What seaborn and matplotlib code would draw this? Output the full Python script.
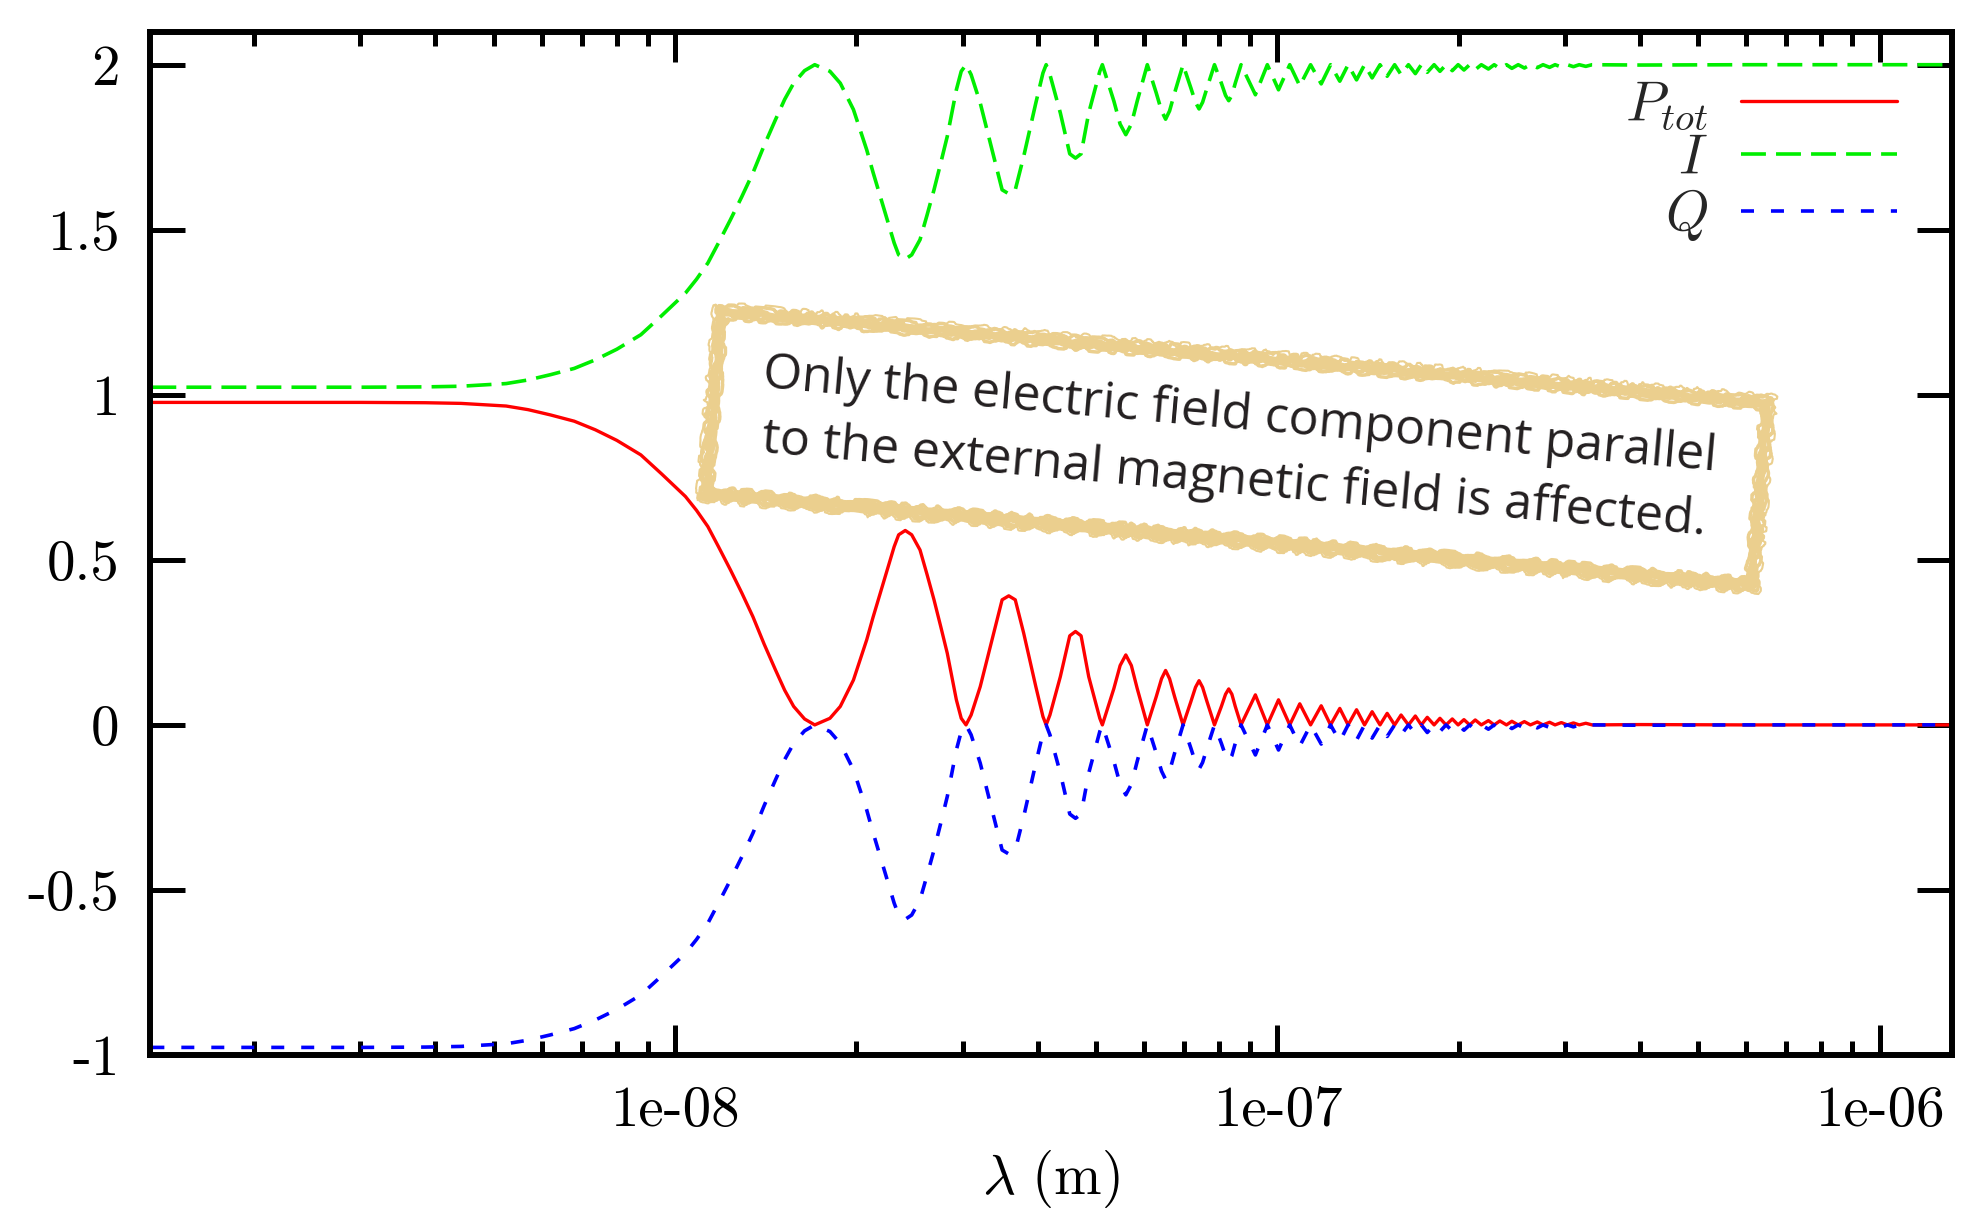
import matplotlib
matplotlib.use("Agg")
import matplotlib.pyplot as plt
import matplotlib.ticker as mticker
import seaborn as sns

# ------------------------------------------------------------------
# values (wavelength in m)
# ------------------------------------------------------------------
lam = [
    1.35e-9, 2.0e-9, 3.0e-9, 3.85e-9, 4.41e-9, 5.24e-9, 5.7e-9, 6.21e-9, 6.8e-9, 7.37e-9,
    8.0e-9, 8.77e-9, 9.5e-9,
    1.04e-8, 1.085e-8, 1.133e-8, 1.18e-8, 1.235e-8, 1.29e-8, 1.346e-8, 1.405e-8, 1.467e-8,
    1.52e-8, 1.573e-8, 1.64e-8, 1.705e-8,
    1.807e-8, 1.88e-8, 1.977e-8, 2.08e-8, 2.13e-8, 2.19e-8, 2.25e-8, 2.31e-8, 2.35e-8, 2.41e-8,
    2.47e-8, 2.55e-8, 2.62e-8, 2.69e-8, 2.76e-8, 2.83e-8, 2.88e-8, 2.93e-8, 2.985e-8, 3.04e-8,
    3.10e-8, 3.21e-8, 3.38e-8, 3.49e-8, 3.58e-8, 3.67e-8, 3.79e-8, 3.97e-8, 4.08e-8, 4.13e-8,
    4.19e-8, 4.36e-8, 4.52e-8, 4.62e-8, 4.72e-8, 4.86e-8, 5.07e-8, 5.12e-8,
    5.35e-8, 5.48e-8, 5.60e-8, 5.72e-8, 5.85e-8, 6.08e-8,
    6.29e-8, 6.42e-8, 6.52e-8, 6.62e-8, 6.75e-8, 6.97e-8,
    7.18e-8, 7.31e-8, 7.41e-8, 7.51e-8, 7.64e-8, 7.86e-8,
    8.07e-8, 8.20e-8, 8.30e-8, 8.40e-8, 8.51e-8, 8.70e-8,
    9.19e-8, 9.62e-8, 1.004e-7, 1.048e-7, 1.089e-7, 1.135e-7, 1.182e-7, 1.225e-7, 1.269e-7, 1.31e-7,
    1.353e-7, 1.395e-7, 1.436e-7, 1.48e-7, 1.521e-7, 1.565e-7, 1.604e-7, 1.65e-7, 1.694e-7, 1.733e-7,
    1.773e-7, 1.82e-7, 1.861e-7, 1.905e-7, 1.951e-7, 1.995e-7, 2.04e-7, 2.085e-7, 2.13e-7, 2.18e-7,
    2.24e-7, 2.29e-7, 2.34e-7, 2.40e-7, 2.45e-7, 2.51e-7, 2.57e-7, 2.63e-7, 2.70e-7, 2.76e-7,
    2.83e-7, 2.89e-7, 2.96e-7, 3.03e-7, 3.10e-7, 3.17e-7, 3.25e-7, 3.33e-7, 4.0e-7, 6.0e-7, 1.0e-6, 1.33e-6,
]

p_tot = [
    0.977, 0.977, 0.977, 0.976, 0.974, 0.966, 0.955, 0.939, 0.920, 0.894,
    0.862, 0.818, 0.760,
    0.692, 0.650, 0.601, 0.540, 0.470, 0.400, 0.328, 0.245, 0.167,
    0.105, 0.056, 0.018, 0.0,
    0.020, 0.056, 0.136, 0.258, 0.325, 0.399, 0.470, 0.540, 0.576, 0.589,
    0.576, 0.530, 0.455, 0.379, 0.298, 0.217, 0.145, 0.076, 0.020, 0.0,
    0.030, 0.116, 0.278, 0.379, 0.391, 0.379, 0.278, 0.116, 0.025, 0.0,
    0.030, 0.146, 0.270, 0.283, 0.270, 0.146, 0.020, 0.0,
    0.11, 0.18, 0.212, 0.18, 0.11, 0.0,
    0.085, 0.140, 0.165, 0.140, 0.085, 0.0,
    0.07, 0.114, 0.134, 0.114, 0.07, 0.0,
    0.056, 0.093, 0.109, 0.093, 0.056, 0.0,
    0.091, 0.0, 0.076, 0.0, 0.064, 0.0, 0.058, 0.0, 0.050, 0.0,
    0.046, 0.0, 0.040, 0.0, 0.035, 0.0, 0.030, 0.0, 0.027, 0.0,
    0.023, 0.0, 0.020, 0.0, 0.018, 0.0, 0.016, 0.0, 0.015, 0.0,
    0.013, 0.0, 0.012, 0.0, 0.011, 0.0, 0.010, 0.0, 0.009, 0.0,
    0.008, 0.0, 0.007, 0.0, 0.006, 0.0, 0.005, 0.0, 0.001, 0.0, 0.0, 0.0,
]

i_vals = [
    1.023, 1.023, 1.023, 1.024, 1.026, 1.034, 1.045, 1.061, 1.080, 1.106,
    1.138, 1.182, 1.240,
    1.308, 1.350, 1.399, 1.460, 1.530, 1.600, 1.672, 1.755, 1.833,
    1.895, 1.944, 1.982, 2.0,
    1.980, 1.944, 1.864, 1.742, 1.675, 1.601, 1.530, 1.460, 1.424, 1.411,
    1.424, 1.470, 1.545, 1.621, 1.702, 1.783, 1.855, 1.924, 1.980, 2.0,
    1.970, 1.884, 1.722, 1.621, 1.609, 1.621, 1.722, 1.884, 1.975, 2.0,
    1.970, 1.854, 1.730, 1.717, 1.730, 1.854, 1.980, 2.0,
    1.89, 1.82, 1.788, 1.82, 1.89, 2.0,
    1.915, 1.860, 1.835, 1.860, 1.915, 2.0,
    1.93, 1.886, 1.866, 1.886, 1.93, 2.0,
    1.944, 1.907, 1.891, 1.907, 1.944, 2.0,
    1.909, 2.0, 1.924, 2.0, 1.936, 2.0, 1.942, 2.0, 1.950, 2.0,
    1.954, 2.0, 1.960, 2.0, 1.965, 2.0, 1.970, 2.0, 1.973, 2.0,
    1.977, 2.0, 1.980, 2.0, 1.982, 2.0, 1.984, 2.0, 1.985, 2.0,
    1.987, 2.0, 1.988, 2.0, 1.989, 2.0, 1.990, 2.0, 1.991, 2.0,
    1.992, 2.0, 1.993, 2.0, 1.994, 2.0, 1.995, 2.0, 1.999, 2.0, 2.0, 2.0,
]

q_vals = [
    -0.977, -0.977, -0.977, -0.976, -0.974, -0.966, -0.955, -0.939, -0.920, -0.894,
    -0.862, -0.818, -0.760,
    -0.692, -0.650, -0.601, -0.540, -0.470, -0.400, -0.328, -0.245, -0.167,
    -0.105, -0.056, -0.018, 0.0,
    -0.020, -0.056, -0.136, -0.258, -0.325, -0.399, -0.470, -0.540, -0.576, -0.589,
    -0.576, -0.530, -0.455, -0.379, -0.298, -0.217, -0.145, -0.076, -0.020, 0.0,
    -0.030, -0.116, -0.278, -0.379, -0.391, -0.379, -0.278, -0.116, -0.025, 0.0,
    -0.030, -0.146, -0.270, -0.283, -0.270, -0.146, -0.020, 0.0,
    -0.11, -0.18, -0.212, -0.18, -0.11, 0.0,
    -0.085, -0.140, -0.165, -0.140, -0.085, 0.0,
    -0.07, -0.114, -0.134, -0.114, -0.07, 0.0,
    -0.056, -0.093, -0.109, -0.093, -0.056, 0.0,
    -0.091, 0.0, -0.076, 0.0, -0.064, 0.0, -0.058, 0.0, -0.050, 0.0,
    -0.046, 0.0, -0.040, 0.0, -0.035, 0.0, -0.030, 0.0, -0.027, 0.0,
    -0.023, 0.0, -0.020, 0.0, -0.018, 0.0, -0.016, 0.0, -0.015, 0.0,
    -0.013, 0.0, -0.012, 0.0, -0.011, 0.0, -0.010, 0.0, -0.009, 0.0,
    -0.008, 0.0, -0.007, 0.0, -0.006, 0.0, -0.005, 0.0, -0.001, 0.0, 0.0, 0.0,
]

x_ticks = [1e-8, 1e-7, 1e-6]
x_ticklabels = ["1e-08", "1e-07", "1e-06"]
y_ticks = [-1, -0.5, 0, 0.5, 1, 1.5, 2]
y_ticklabels = ["-1", "-0.5", "0", "0.5", "1", "1.5", "2"]

note_text = (" Only the electric field component parallel \n"
             " to the external magnetic field is affected. ")

# ------------------------------------------------------------------
# style
# ------------------------------------------------------------------
sns.set_theme(style="ticks")
plt.rcParams["font.family"] = ["cmr10", "DejaVu Serif"]
plt.rcParams["mathtext.fontset"] = "cm"
plt.rcParams["axes.unicode_minus"] = False
plt.rcParams["axes.formatter.use_mathtext"] = True

fig = plt.figure(figsize=(19.61, 12.27), dpi=100)
ax = fig.add_axes([150 / 1961, 1 - 1055 / 1227, 1802 / 1961, 1023.3 / 1227])
ax.set_xscale("log")

sns.lineplot(x=lam, y=p_tot, ax=ax, color="#ff0000", linewidth=2.4,
             label=r"$P_{tot}$", estimator=None, sort=False)
sns.lineplot(x=lam, y=i_vals, ax=ax, color="#00ee00", linewidth=2.6,
             linestyle=(0, (6.9, 2.8)), label=r"$I$", estimator=None, sort=False)
sns.lineplot(x=lam, y=q_vals, ax=ax, color="#0000ff", linewidth=2.6,
             linestyle=(0, (3.6, 4.7)), label=r"$Q$", estimator=None, sort=False)

ax.set_xlim(1.343e-9, 1.318e-6)
ax.set_ylim(-1, 2.1)

ax.set_xticks(x_ticks)
ax.set_xticklabels(x_ticklabels)
ax.xaxis.set_minor_locator(mticker.LogLocator(base=10, subs=range(2, 10), numticks=30))
ax.xaxis.set_minor_formatter(mticker.NullFormatter())
ax.set_yticks(y_ticks)
ax.set_yticklabels(y_ticklabels)

for s in ax.spines.values():
    s.set_linewidth(4.3)
    s.set_color("black")

ax.tick_params(which="both", direction="in", top=True, right=True, color="black",
               labelcolor="black", width=3.6, labelsize=41)
ax.tick_params(axis="y", which="major", length=25, pad=22)
ax.tick_params(axis="x", which="major", length=21.5, pad=22)
ax.tick_params(axis="x", which="minor", length=10)

ax.set_xlabel(r"$\lambda\ (\mathrm{m})$", fontsize=41, labelpad=8, color="black")
ax.set_ylabel("")

ax.legend(loc="upper right", bbox_to_anchor=(0.9695, 0.954), markerfirst=False,
          frameon=False, fontsize=40, handlelength=2.8, handletextpad=0.6,
          labelspacing=0.05, borderaxespad=0, borderpad=0)

# scribbled note box
box_kw = dict(transform=ax.transAxes, ha="center", va="center", rotation=-5,
              rotation_mode="anchor", fontsize=36, family="Open Sans",
              linespacing=1.4, multialignment="center")
tan = "#ebcf8e"
cx, cy = 0.603, 0.593
note = ax.text(cx, cy, note_text, color="#231f20", zorder=7,
               bbox=dict(boxstyle="square,pad=0.68", fc="white", ec=tan, lw=5),
               **box_kw)
bp = note.get_bbox_patch()
bp.set_joinstyle("round")
bp.set_sketch_params(scale=1.5, length=80, randomness=10)
for pad, lw, sc in [(0.56, 2.5, 2.0), (0.61, 3.0, 1.5), (0.65, 3.5, 2.0),
                    (0.73, 3.0, 2.5), (0.78, 2.5, 2.0), (0.82, 1.5, 2.5)]:
    extra = ax.text(cx, cy, note_text, color="none", zorder=7,
                    bbox=dict(boxstyle=f"square,pad={pad}", fc="none", ec=tan, lw=lw),
                    **box_kw)
    ep = extra.get_bbox_patch()
    ep.set_joinstyle("round")
    ep.set_capstyle("round")
    ep.set_sketch_params(scale=sc, length=60, randomness=15)

fig.savefig("out.png", dpi=100)
